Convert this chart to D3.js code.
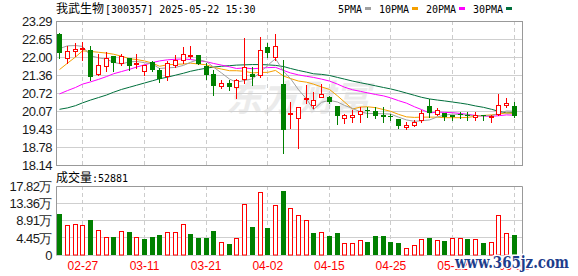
<!DOCTYPE html>
<html lang="zh">
<head>
<meta charset="UTF-8" />
<title>我武生物 日K</title>
<script src="https://cdn.jsdelivr.net/npm/d3@7/dist/d3.min.js"></script>
<style>
  body { margin: 0; background: #fff; }
  svg { display: block; }
  .ylab text { font-family: "Liberation Sans", Arial, sans-serif; font-size: 13px; letter-spacing: -0.5px; fill: #1a1a1a; }
  .xlab text { font-family: "Liberation Sans", Arial, sans-serif; font-size: 12px; fill: #ff0000; }
  .mono { font-family: "DejaVu Sans Mono", "Liberation Mono", monospace; font-size: 10px; fill: #000; }
  .cjk { font-family: "Noto Sans CJK SC", sans-serif; font-size: 12px; fill: #000; }
</style>
</head>
<body>
<div id="chart"></div>
<script>
// trading days shown
var dates = ["02-24","02-25","02-26","02-27","02-28","03-03","03-04","03-05","03-06","03-07",
  "03-10","03-11","03-12","03-13","03-14","03-17","03-18","03-19","03-20","03-21",
  "03-24","03-25","03-26","03-27","03-28","03-31","04-01","04-02","04-03","04-07",
  "04-08","04-09","04-10","04-11","04-14","04-15","04-16","04-17","04-18","04-21",
  "04-22","04-23","04-24","04-25","04-28","04-29","04-30","05-06","05-07","05-08",
  "05-09","05-12","05-13","05-14","05-15","05-16","05-19","05-20","05-21","05-22"];

var open = [22.85,22.00,22.24,22.33,22.26,21.43,21.70,22.05,21.81,21.97,
  21.76,21.53,21.84,21.57,21.34,21.73,21.91,22.05,22.08,21.70,
  21.43,20.98,21.08,20.94,21.22,21.43,21.37,22.38,22.02,21.05,
  19.98,19.83,20.52,20.31,20.58,20.60,20.27,19.83,19.89,19.98,
  20.12,20.10,19.95,19.90,19.80,19.50,19.59,19.75,20.27,19.98,
  20.00,19.93,19.97,19.95,19.89,19.93,19.88,19.97,20.31,20.27];
var high = [22.87,22.40,22.52,22.55,22.40,22.14,22.20,22.05,22.12,22.00,
  22.14,21.73,21.88,21.61,21.88,22.08,22.38,22.40,22.08,21.79,
  21.55,21.19,21.20,21.22,22.71,21.67,22.73,22.52,22.83,21.93,
  20.42,20.22,21.02,20.77,21.05,20.63,20.27,19.99,20.13,20.22,
  20.22,20.24,20.22,19.99,19.80,19.71,19.77,20.13,20.51,20.19,
  20.01,19.95,20.06,20.05,20.05,19.95,19.95,20.70,20.55,20.42];
var low = [22.00,21.79,22.07,21.91,21.19,21.37,21.52,21.52,21.73,21.55,
  21.61,21.37,21.52,21.13,21.19,21.67,21.79,21.97,21.76,21.22,
  20.66,20.90,20.85,20.54,21.10,21.02,21.31,22.02,21.93,18.59,
  19.49,18.77,20.37,20.20,20.58,20.37,19.63,19.66,19.71,19.71,
  19.87,19.83,19.71,19.76,19.48,19.45,19.57,19.71,19.87,19.95,
  19.75,19.75,19.83,19.75,19.75,19.75,19.71,19.95,20.25,19.87];
var close = [22.16,22.22,22.32,22.36,21.31,21.73,21.97,21.79,22.05,21.70,
  21.81,21.73,21.55,21.25,21.79,21.91,22.12,22.08,21.76,21.37,
  20.98,21.08,20.96,21.20,21.67,21.29,22.26,22.16,22.40,19.42,
  20.03,20.22,20.55,20.48,20.70,20.42,19.92,19.93,19.95,20.10,
  20.09,19.92,19.89,19.88,19.57,19.58,19.68,20.01,20.00,20.12,
  19.88,19.89,19.93,19.92,19.94,19.90,19.91,20.31,20.39,19.91];

// volume in 万 shares
var volume = [10.59,7.75,8.19,7.92,9.04,6.63,4.74,4.56,6.37,5.94,
  4.56,4.13,4.65,5.17,6.11,5.94,8.00,5.42,4.39,4.39,
  6.20,3.36,2.84,4.30,13.17,7.23,16.45,6.97,12.91,16.53,
  12.31,10.33,9.04,5.77,5.94,4.91,5.77,3.10,3.10,3.87,
  3.36,4.91,4.91,3.44,3.18,1.72,2.58,4.04,4.39,3.87,
  3.62,4.30,4.30,4.04,4.04,3.10,3.36,10.33,5.60,5.29];
var lastVolume = 52881;

var ma5 = [22.32,22.42,22.43,22.40,22.07,21.99,21.94,21.83,21.77,21.85,
  21.86,21.82,21.77,21.61,21.63,21.65,21.72,21.83,21.93,21.85,
  21.66,21.45,21.23,21.12,21.18,21.24,21.48,21.72,21.96,21.51,
  21.25,20.85,20.52,20.14,20.40,20.47,20.41,20.29,20.18,20.06,
  20.00,20.00,19.99,19.98,19.87,19.77,19.72,19.74,19.77,19.88,
  19.94,19.98,19.96,19.95,19.91,19.92,19.92,20.00,20.09,20.08];
var ma10 = [21.57,21.80,22.02,22.24,22.22,22.19,22.16,22.12,22.05,21.96,
  21.93,21.88,21.80,21.69,21.74,21.76,21.77,21.80,21.77,21.74,
  21.65,21.59,21.53,21.53,21.51,21.45,21.47,21.47,21.54,21.34,
  21.25,21.16,21.12,21.05,20.95,20.86,20.63,20.41,20.16,20.23,
  20.24,20.21,20.14,20.08,19.97,19.88,19.86,19.87,19.87,19.87,
  19.85,19.85,19.85,19.86,19.90,19.93,19.95,19.98,20.02,20.00];
var ma20 = [20.70,20.82,20.93,21.05,21.13,21.22,21.32,21.42,21.50,21.58,
  21.66,21.74,21.82,21.88,21.92,21.94,21.95,21.93,21.89,21.85,
  21.79,21.73,21.67,21.61,21.63,21.60,21.62,21.64,21.65,21.54,
  21.45,21.38,21.33,21.29,21.23,21.16,21.05,20.94,20.85,20.79,
  20.74,20.68,20.63,20.56,20.46,20.37,20.24,20.14,20.02,20.05,
  20.04,20.03,20.00,19.97,19.93,19.91,19.90,19.92,19.95,19.94];
var ma30 = [20.15,20.20,20.28,20.38,20.48,20.57,20.66,20.76,20.86,20.94,
  21.01,21.09,21.17,21.24,21.30,21.37,21.44,21.51,21.57,21.62,
  21.66,21.69,21.71,21.73,21.74,21.75,21.75,21.74,21.72,21.68,
  21.61,21.54,21.48,21.42,21.40,21.36,21.29,21.23,21.16,21.10,
  21.05,20.99,20.93,20.88,20.81,20.73,20.65,20.58,20.52,20.48,
  20.45,20.41,20.37,20.33,20.27,20.22,20.15,20.08,20.02,20.03];

var priceTicks = [18.14,18.78,19.43,20.07,20.72,21.36,22.00,22.65,23.29];
var volTicks = [0,4.45,8.91,13.36,17.82];
var dateTicks = ["02-27","03-11","03-21","04-02","04-15","04-25","05-12","05-22"];
var maNames = ["5PMA","10PMA","20PMA","30PMA"];
var maColors = ["#a0a0a0","#f5a000","#ff00ff","#006f3c"];

var w = 578, h = 276;
var left = 56, right = 522;
var pTop = 21, pBot = 166;
var vTop = 186, vBot = 255;
var up = "#ff0000", down = "#008000";

var svg = d3.select("#chart").append("svg")
  .attr("width", w)
  .attr("height", h);

var x = d3.scaleBand().domain(d3.range(dates.length)).range([left, 518]);
var yp = d3.scaleLinear().domain([18.14, 23.29]).range([pBot - 0.5, pTop + 0.5]);
var yv = d3.scaleLinear().domain([0, 17.82]).range([vBot, vTop + 0.5]);

function cx(i) { return Math.floor(x(i) + x.bandwidth() / 2); }

// watermark behind everything
svg.append("text")
  .attr("x", 226).attr("y", 111)
  .attr("font-family", "Noto Sans CJK SC, sans-serif")
  .attr("font-size", 36).attr("font-weight", "bold")
  .attr("font-style", "italic")
  .attr("fill", "#ebebeb")
  .text("东方财富");

// horizontal grid
svg.append("g").selectAll("line")
  .data(priceTicks)
  .enter().append("line")
  .attr("x1", left).attr("x2", right)
  .attr("y1", function(d) { return Math.round(yp(d) - 0.5) + 0.5; })
  .attr("y2", function(d) { return Math.round(yp(d) - 0.5) + 0.5; })
  .attr("stroke", "#cfcfcf");
svg.append("g").selectAll("line")
  .data(volTicks)
  .enter().append("line")
  .attr("x1", left).attr("x2", right)
  .attr("y1", function(d) { return Math.round(yv(d) - 0.5) + 0.5; })
  .attr("y2", function(d) { return Math.round(yv(d) - 0.5) + 0.5; })
  .attr("stroke", "#cfcfcf");

// vertical dashed grid
var vg = svg.append("g");
dateTicks.forEach(function(d) {
  var i = dates.indexOf(d);
  [[pTop, pBot], [vTop, vBot]].forEach(function(r) {
    vg.append("line")
      .attr("x1", cx(i) + 0.5).attr("x2", cx(i) + 0.5)
      .attr("y1", r[0]).attr("y2", r[1])
      .attr("stroke", "#cccccc")
      .attr("stroke-dasharray", "4,3");
  });
});

// panel borders
svg.append("rect").attr("x", left + 0.5).attr("y", pTop + 0.5)
  .attr("width", right - left).attr("height", pBot - pTop - 1)
  .attr("fill", "none").attr("stroke", "#999");
svg.append("path")
  .attr("d", "M" + (left + 0.5) + "," + vBot + "V" + (vTop + 0.5) + "H" + (right + 0.5) + "V" + vBot)
  .attr("fill", "none").attr("stroke", "#999");

// moving averages
var maData = [ma5, ma10, ma20, ma30];
var line = d3.line()
  .x(function(d, i) { return cx(i) + 0.5; })
  .y(function(d) { return yp(d); });
maData.slice().reverse().forEach(function(arr, k) {
  svg.append("path")
    .datum(arr)
    .attr("d", line)
    .attr("fill", "none")
    .attr("stroke", maColors[3 - k])
    .attr("stroke-width", 1);
});

// candles
var candles = svg.append("g").selectAll("g")
  .data(d3.range(dates.length))
  .enter().append("g");

candles.append("line")
  .attr("x1", function(i) { return cx(i) + 0.5; })
  .attr("x2", function(i) { return cx(i) + 0.5; })
  .attr("y1", function(i) { return Math.round(yp(high[i])); })
  .attr("y2", function(i) { return Math.round(yp(low[i])) + 1; })
  .attr("stroke", function(i) { return close[i] >= open[i] ? up : down; });

candles.append("rect")
  .attr("x", function(i) { return close[i] >= open[i] ? cx(i) - 1.5 : cx(i) - 2; })
  .attr("y", function(i) {
    var t = Math.round(yp(Math.max(open[i], close[i])));
    return close[i] >= open[i] ? t + 0.5 : t;
  })
  .attr("width", function(i) { return close[i] >= open[i] ? 4 : 5; })
  .attr("height", function(i) {
    var t = Math.round(yp(Math.max(open[i], close[i])));
    var b = Math.round(yp(Math.min(open[i], close[i])));
    return Math.max(b - t, 1);
  })
  .attr("fill", function(i) { return close[i] >= open[i] ? "#fff" : down; })
  .attr("stroke", function(i) { return close[i] >= open[i] ? up : "none"; });

// volume bars, coloured by change against the previous close
function volUp(i) { return i === 0 ? close[i] >= open[i] : close[i] >= close[i - 1]; }
svg.append("g").selectAll("rect")
  .data(volume)
  .enter().append("rect")
  .attr("x", function(d, i) { return volUp(i) ? cx(i) - 1.5 : cx(i) - 2; })
  .attr("y", function(d, i) { return Math.round(yv(d)) + (volUp(i) ? 0.5 : 0); })
  .attr("width", function(d, i) { return volUp(i) ? 4 : 5; })
  .attr("height", function(d, i) { return vBot - Math.round(yv(d)) - (volUp(i) ? 0.5 : 0); })
  .attr("fill", function(d, i) { return volUp(i) ? "#fff" : down; })
  .attr("stroke", function(d, i) { return volUp(i) ? up : "none"; });

// axes
var yAxisP = d3.axisLeft(yp).tickValues(priceTicks).tickSize(0).tickPadding(4)
  .tickFormat(d3.format(".2f"));
svg.append("g").attr("class", "ylab")
  .attr("transform", "translate(" + left + ",0)")
  .call(yAxisP)
  .call(function(g) { g.select(".domain").remove(); });

var yAxisV = d3.axisLeft(yv).tickValues(volTicks).tickSize(0).tickPadding(4)
  .tickFormat(function(d) { return d === 0 ? "0" : d3.format(".2f")(d) + "万"; });
svg.append("g").attr("class", "ylab")
  .attr("transform", "translate(" + left + ",0)")
  .call(yAxisV)
  .call(function(g) { g.select(".domain").remove(); });
svg.selectAll(".ylab text").attr("font-family", null).attr("font-size", null).attr("fill", null);

var xAxis = d3.axisBottom(x)
  .tickValues(dateTicks.map(function(d) { return dates.indexOf(d); }))
  .tickFormat(function(i) { return dates[i]; })
  .tickSize(0).tickPadding(6);
svg.append("g").attr("class", "xlab")
  .attr("transform", "translate(0," + vBot + ")")
  .call(xAxis)
  .call(function(g) { g.select(".domain").remove(); });
svg.selectAll(".xlab text").attr("font-family", null).attr("font-size", null).attr("fill", null);

// title and volume caption
svg.append("text").attr("class", "cjk").attr("x", 56).attr("y", 13).text("我武生物");
svg.append("text").attr("class", "mono").attr("x", 105).attr("y", 13).text("[300357] 2025-05-22 15:30");
svg.append("text").attr("class", "cjk").attr("x", 56).attr("y", 182).text("成交量");
svg.append("text").attr("class", "mono").attr("x", 92).attr("y", 182).text(":" + lastVolume);

// legend
var lx = 338;
maNames.forEach(function(name, k) {
  svg.append("text").attr("class", "mono").attr("x", lx).attr("y", 13).text(name);
  lx += name.length * 6 + 3;
  svg.append("rect").attr("x", lx).attr("y", 7).attr("width", 6).attr("height", 3)
    .attr("fill", maColors[k]);
  lx += 14;
});

// site watermark
svg.append("text")
  .attr("x", 455).attr("y", 268)
  .attr("font-family", "DejaVu Serif, serif")
  .attr("font-weight", "bold")
  .attr("font-size", 17)
  .attr("textLength", 114)
  .attr("lengthAdjust", "spacingAndGlyphs")
  .attr("fill", "#1d3d8c")
  .attr("stroke", "#fff").attr("stroke-width", 3)
  .attr("paint-order", "stroke")
  .text("www.365jz.com");
</script>
</body>
</html>
